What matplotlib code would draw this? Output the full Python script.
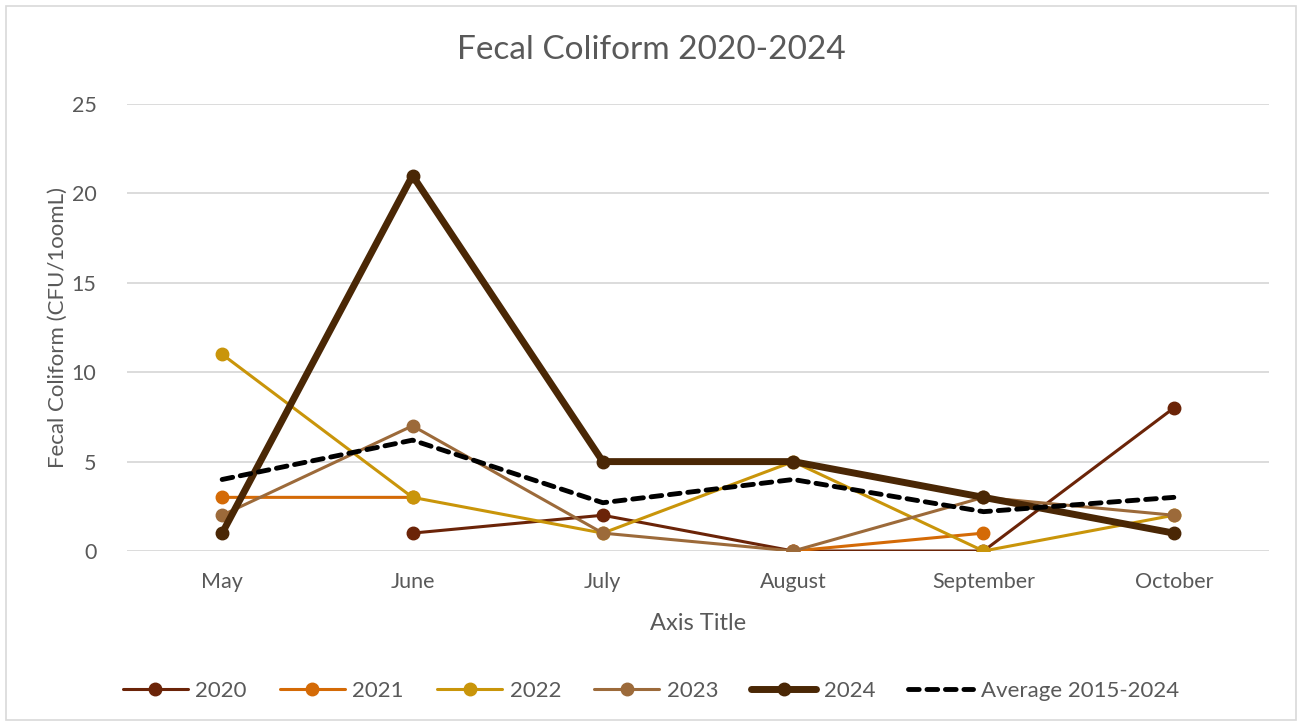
import numpy as np
import matplotlib
matplotlib.use("Agg")
import matplotlib.pyplot as plt
from matplotlib.patches import Rectangle

plt.rcParams['font.family'] = ['Lato', 'DejaVu Sans']

months = ["May", "June", "July", "August", "September", "October"]
s2020 = [np.nan, 1, 2, 0, 0, 8]
s2021 = [3, 3, np.nan, 0, 1, np.nan]
s2022 = [11, 3, 1, 5, 0, 2]
s2023 = [2, 7, 1, 0, 3, 2]
s2024 = [1, 21, 5, 5, 3, 1]
avg = [4.0, 6.2, 2.7, 4.0, 2.2, 3.0]

title = "Fecal Coliform 2020-2024"
xlabel = "Axis Title"
ylabel = "Fecal Coliform (CFU/1oomL)"
yticks = [0, 5, 10, 15, 20, 25]

text_color = "#595959"

fig = plt.figure(figsize=(13.02, 7.26), dpi=100)
ax = fig.add_axes([127/1302, 1-551/726, (1269-127)/1302, (551-104)/726])

x = np.arange(len(months))
series = [
    ("2020", s2020, "#6B2408", 2.2),
    ("2021", s2021, "#D46A06", 2.2),
    ("2022", s2022, "#C9950A", 2.2),
    ("2023", s2023, "#9C6A3A", 2.2),
    ("2024", s2024, "#4A2705", 5.0),
]
for name, vals, col, lw in series:
    ax.plot(x, vals, color=col, lw=lw, marker='o', markersize=9,
            label=name, solid_capstyle='round', zorder=3)
ax.plot(x, avg, color='black', lw=3.5, ls=(0, (2.2, 1.6)), label="Average 2015-2024",
        dash_capstyle='round', zorder=4)

ax.set_xlim(-0.5, len(months) - 0.5)
ax.set_ylim(0, 25)
ax.set_yticks(yticks)
ax.set_xticks(x)
ax.set_xticklabels(months)
ax.tick_params(axis='both', length=0, labelsize=15.5, labelcolor=text_color)
ax.tick_params(axis='x', pad=15)
ax.tick_params(axis='y', pad=22)
ax.grid(axis='y', color='#D9D9D9', lw=1.3)
ax.set_axisbelow(True)
for sp in ax.spines.values():
    sp.set_visible(False)

ax.set_xlabel(xlabel, fontsize=17, color=text_color, labelpad=15)
ax.set_ylabel(ylabel, fontsize=16, color=text_color, labelpad=3)
fig.suptitle(title, fontsize=24, color=text_color, y=1-50/726, va='center')

leg = fig.legend(loc='center', bbox_to_anchor=(0.5, 1-691/726), ncol=6, frameon=False,
                 fontsize=16, handlelength=2.9, columnspacing=1.5, handletextpad=0.35)
for t in leg.get_texts():
    t.set_color(text_color)

fig.patches.append(Rectangle((6/1302, 6/726), 1290/1302, 714/726, transform=fig.transFigure,
                             fill=False, edgecolor='#D9D9D9', lw=1.2))

fig.savefig("out.png", dpi=100, facecolor='white')
